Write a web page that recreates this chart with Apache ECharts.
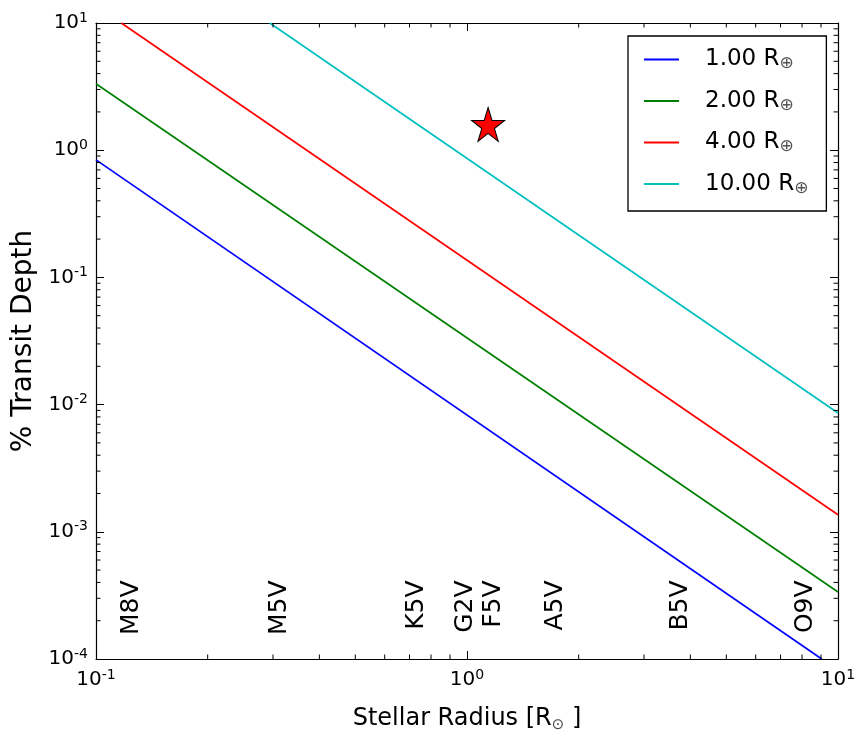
<!DOCTYPE html>
<html><head><meta charset="utf-8">
<script src="https://cdn.jsdelivr.net/npm/echarts@6/dist/echarts.min.js"></script>
<style>html,body{margin:0;padding:0;background:#fff}#c{width:855px;height:731px}</style>
</head><body><div id="c"></div>
<script>
const FONT = 'DejaVu Sans';
// planet radii (Earth radii) for each line
const planetRadii = ['1.00', '2.00', '4.00', '10.00'];
const lineColors = ['#0000ff', '#008000', '#ff0000', '#00bfbf'];
// [stellar radius, % transit depth] endpoints
const depth1 = [[0.1, 0.84], [9.04, 1e-4]];
const depth2 = [[0.1, 3.33], [10, 3.36e-4]];
const depth4 = [[0.117, 10], [10, 1.36e-3]];
const depth10 = [[0.294, 10], [10, 8.6e-3]];
const depthSeries = [depth1, depth2, depth4, depth10];
// spectral type markers
const spectralTypes = ['M8V', 'M5V', 'K5V', 'G2V', 'F5V', 'A5V', 'B5V', 'O9V'];
const spectralRadii = [0.125, 0.312, 0.731, 0.989, 1.18, 1.73, 3.77, 8.15];
const spectralLabelY = 4.0e-4;
// star marker
const starPoint = [[1.14, 1.55]];
// axis ranges and minor ticks
const xRange = [0.1, 10];
const yRange = [1e-4, 10];
const xMinorTicks = [0.2, 0.3, 0.4, 0.5, 0.6, 0.7, 0.8, 0.9, 2, 3, 4, 5, 6, 7, 8, 9];
const yMinorTicks = [2e-4, 3e-4, 4e-4, 5e-4, 6e-4, 7e-4, 8e-4, 9e-4,
  2e-3, 3e-3, 4e-3, 5e-3, 6e-3, 7e-3, 8e-3, 9e-3,
  0.02, 0.03, 0.04, 0.05, 0.06, 0.07, 0.08, 0.09,
  0.2, 0.3, 0.4, 0.5, 0.6, 0.7, 0.8, 0.9,
  2, 3, 4, 5, 6, 7, 8, 9];

const STAR = 'path://M50,0 L61.23,34.55 L97.55,34.55 L68.17,55.9 L79.39,90.45 L50,69.1 L20.61,90.45 L31.83,55.9 L2.45,34.55 L38.77,34.55 Z';

const tickRich = {
  b: { fontFamily: FONT, fontSize: 20, color: '#000', lineHeight: 24 },
  s: { fontFamily: FONT, fontSize: 14, color: '#000', lineHeight: 14, verticalAlign: 'top' }
};
function powLabel(v) {
  const e = Math.round(Math.log10(v));
  return '{b|10}{s|' + e + '}';
}
const axisLineStyle = { color: '#000', width: 1.2 };

function minorTickSeries(values, isX) {
  return {
    type: 'custom', silent: true, clip: false, z: 5,
    xAxisIndex: 0, yAxisIndex: 0,
    data: values.map(v => isX ? [v, yRange[0]] : [xRange[0], v]),
    renderItem: function (params, api) {
      const cs = params.coordSys;
      const p = api.coord([api.value(0), api.value(1)]);
      const L = 4.5;
      const st = { stroke: '#000', lineWidth: 1 };
      if (isX) {
        const x = p[0], yb = cs.y + cs.height, yt = cs.y;
        return { type: 'group', children: [
          { type: 'line', shape: { x1: x, y1: yb, x2: x, y2: yb - L }, style: st },
          { type: 'line', shape: { x1: x, y1: yt, x2: x, y2: yt + L }, style: st }
        ] };
      } else {
        const y = p[1], xl = cs.x, xr = cs.x + cs.width;
        return { type: 'group', children: [
          { type: 'line', shape: { x1: xl, y1: y, x2: xl + L, y2: y }, style: st },
          { type: 'line', shape: { x1: xr, y1: y, x2: xr - L, y2: y }, style: st }
        ] };
      }
    }
  };
}

const series = planetRadii.map((r, i) => ({
  name: r, type: 'line', data: depthSeries[i], symbol: 'none', showSymbol: false,
  xAxisIndex: 0, yAxisIndex: 0, z: 3,
  lineStyle: { color: lineColors[i], width: 1.7 }, itemStyle: { color: lineColors[i] }
}));
series.push({
  type: 'scatter', xAxisIndex: 0, yAxisIndex: 0, z: 4, silent: true,
  data: starPoint, symbol: STAR, symbolSize: [33, 34], symbolOffset: [0, -1.5],
  itemStyle: { color: '#ff0000', borderColor: '#000', borderWidth: 1, opacity: 1 }
});
series.push({
  type: 'scatter', xAxisIndex: 0, yAxisIndex: 0, z: 4, silent: true,
  data: spectralTypes.map((t, i) => ({ value: [spectralRadii[i], spectralLabelY], name: t })),
  symbolSize: 0, itemStyle: { opacity: 1 },
  label: {
    show: true, position: [0, 0], offset: [2, 0], rotate: 90, align: 'right', verticalAlign: 'middle',
    formatter: p => p.name, fontFamily: FONT, fontSize: 25, color: '#000', opacity: 1,
    textBorderWidth: 0
  }
});
series.push(minorTickSeries(xMinorTicks, true));
series.push(minorTickSeries(yMinorTicks, false));

const legendRich = {
  sp: { width: 21 },
  a: { fontFamily: FONT, fontSize: 23, color: '#000', lineHeight: 26 },
  s: { fontFamily: FONT, fontSize: 17, color: '#555', lineHeight: 15, verticalAlign: 'bottom' }
};

const option = {
  backgroundColor: '#fff',
  animation: false,
  grid: { left: 96, top: 23, right: 17, bottom: 72, containLabel: false, outerBoundsMode: 'none' },
  legend: {
    show: true, orient: 'vertical', left: 628, top: 36,
    data: planetRadii.map((n, i) => ({ name: n, icon: 'rect', itemStyle: { color: lineColors[i] } })),
    itemWidth: 35, itemHeight: 2, itemGap: 17,
    padding: [12, 18, 14, 16],
    backgroundColor: '#fff', borderColor: '#000', borderWidth: 1.3, borderRadius: 0,
    formatter: n => '{sp|}{a|' + n + ' R}{s|⊕}',
    textStyle: { rich: legendRich }
  },
  xAxis: [{
    type: 'log', logBase: 10, min: xRange[0], max: xRange[1], position: 'bottom',
    name: '{a|Stellar Radius [R}{s|⊙}{a| ]}', nameLocation: 'middle', nameGap: 46,
    nameTextStyle: { rich: {
      a: { fontFamily: FONT, fontSize: 24, color: '#000', lineHeight: 28 },
      s: { fontFamily: FONT, fontSize: 15, color: '#444', lineHeight: 15, verticalAlign: 'bottom' }
    } },
    axisLine: { show: true, lineStyle: axisLineStyle },
    axisTick: { show: true, inside: true, length: 8, lineStyle: { color: '#000', width: 1 } },
    minorTick: { show: false },
    splitLine: { show: false },
    axisLabel: { show: true, margin: 9, formatter: powLabel, rich: tickRich }
  }, {
    type: 'log', logBase: 10, min: xRange[0], max: xRange[1], position: 'top',
    axisLine: { show: true, lineStyle: axisLineStyle },
    axisTick: { show: true, inside: true, length: 8, lineStyle: { color: '#000', width: 1 } },
    splitLine: { show: false }, axisLabel: { show: false }
  }],
  yAxis: [{
    type: 'log', logBase: 10, min: yRange[0], max: yRange[1], position: 'left',
    name: '% Transit Depth', nameLocation: 'middle', nameGap: 50, nameRotate: 90,
    nameTextStyle: { fontFamily: FONT, fontSize: 28, color: '#000' },
    axisLine: { show: true, lineStyle: axisLineStyle },
    axisTick: { show: true, inside: true, length: 8, lineStyle: { color: '#000', width: 1 } },
    splitLine: { show: false },
    axisLabel: { show: true, margin: 8, formatter: powLabel, rich: tickRich }
  }, {
    type: 'log', logBase: 10, min: yRange[0], max: yRange[1], position: 'right',
    axisLine: { show: true, lineStyle: axisLineStyle },
    axisTick: { show: true, inside: true, length: 8, lineStyle: { color: '#000', width: 1 } },
    splitLine: { show: false }, axisLabel: { show: false }
  }],
  series: series
};
const chart = echarts.init(document.getElementById('c'), null, { renderer: 'canvas' });
chart.setOption(option);
</script></body></html>
